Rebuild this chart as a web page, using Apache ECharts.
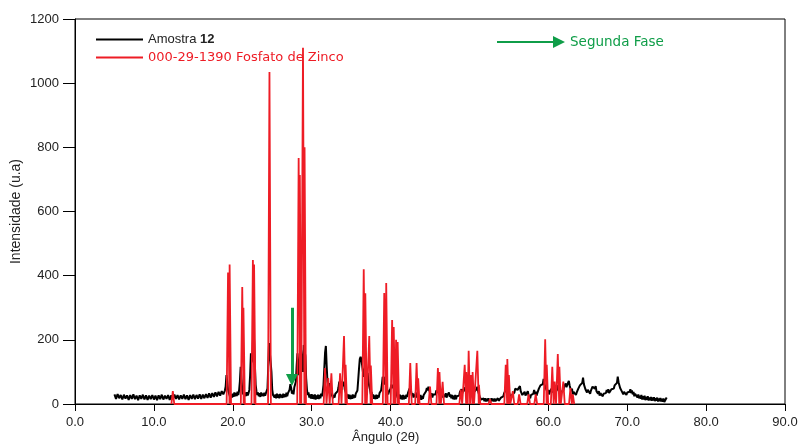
<!DOCTYPE html>
<html>
<head>
<meta charset="utf-8">
<script src="https://cdn.jsdelivr.net/npm/echarts@6/dist/echarts.min.js"></script>
<style>html,body{margin:0;padding:0;background:#fff;}#c{width:800px;height:448px;}</style>
</head>
<body>
<div id="c"></div>
<script>
// Amostra 12 measured pattern: [angle 2θ, intensity]
const amostraData = [
[5.0,30],[5.2,16],[5.4,31],[5.6,18],[5.8,28],[6.0,14],[6.2,29],[6.4,17],[6.6,27],[6.8,13],
[7.0,28],[7.2,16],[7.4,30],[7.6,15],[7.8,26],[8.0,12],[8.2,27],[8.4,16],[8.6,29],[8.8,14],
[9.0,27],[9.2,13],[9.4,26],[9.6,15],[9.8,28],[10.0,14],[10.2,26],[10.4,12],[10.6,27],[10.8,15],
[11.0,29],[11.2,14],[11.4,26],[11.6,16],[11.8,28],[12.0,13],[12.2,27],[12.4,15],[12.6,29],[12.8,16],
[13.0,28],[13.2,14],[13.4,27],[13.6,16],[13.8,29],[14.0,15],[14.2,27],[14.4,13],[14.6,28],[14.8,16],
[15.0,29],[15.2,15],[15.4,28],[15.6,17],[15.8,30],[16.0,16],[16.2,29],[16.4,18],[16.6,31],[16.8,19],
[17.0,33],[17.2,20],[17.4,34],[17.6,22],[17.8,36],[18.0,24],[18.2,38],[18.4,26],[18.6,40],[18.8,30],
[19.0,42],[19.1,55],[19.2,90],[19.3,70],[19.4,45],[19.5,35],[19.6,30],[19.7,18],[19.8,30],[19.9,20],
[20.0,32],[20.1,22],[20.2,36],[20.3,24],[20.4,34],[20.5,25],[20.6,38],[20.7,28],[20.8,42],[20.9,70],
[21.0,116],[21.1,80],[21.2,45],[21.3,30],[21.4,38],[21.5,24],[21.6,36],[21.7,25],[21.8,37],[21.9,27],
[22.0,34],[22.1,44],[22.2,90],[22.3,158],[22.4,130],[22.5,150],[22.6,233],[22.7,200],[22.8,120],[22.9,60],
[23.0,40],[23.1,28],[23.2,36],[23.3,24],[23.4,34],[23.5,22],[23.6,36],[23.7,25],[23.8,33],[23.9,24],
[24.0,35],[24.1,26],[24.2,34],[24.3,32],[24.4,48],[24.5,120],[24.6,190],[24.7,190],[24.8,190],[24.9,100],
[25.0,45],[25.1,28],[25.2,34],[25.3,20],[25.4,30],[25.5,18],[25.6,32],[25.7,19],[25.8,30],[25.9,18],
[26.0,31],[26.1,20],[26.2,29],[26.3,19],[26.4,32],[26.5,21],[26.6,30],[26.7,22],[26.8,35],[26.9,24],
[27.0,34],[27.1,28],[27.2,45],[27.3,62],[27.4,50],[27.5,32],[27.6,42],[27.7,30],[27.8,52],[27.9,46],
[28.0,70],[28.1,120],[28.2,158],[28.3,110],[28.4,90],[28.5,140],[28.6,184],[28.7,184],[28.8,130],[28.9,100],
[29.0,184],[29.1,184],[29.2,150],[29.3,80],[29.4,45],[29.5,28],[29.6,36],[29.7,20],[29.8,30],[29.9,17],
[30.0,31],[30.1,16],[30.2,28],[30.3,15],[30.4,30],[30.5,14],[30.6,27],[30.7,16],[30.8,29],[30.9,15],
[31.0,28],[31.1,18],[31.2,32],[31.3,24],[31.4,38],[31.5,60],[31.6,110],[31.7,160],[31.8,181],[31.9,120],
[32.0,70],[32.1,52],[32.2,65],[32.3,48],[32.4,36],[32.5,24],[32.6,32],[32.7,18],[32.8,28],[32.9,20],
[33.0,32],[33.1,26],[33.2,38],[33.3,40],[33.4,52],[33.5,70],[33.6,58],[33.7,70],[33.8,45],[33.9,68],
[34.0,55],[34.1,70],[34.2,45],[34.3,40],[34.4,30],[34.5,20],[34.6,30],[34.7,16],[34.8,29],[34.9,15],
[35.0,27],[35.1,16],[35.2,30],[35.3,18],[35.4,28],[35.5,20],[35.6,33],[35.7,28],[35.8,42],[35.9,75],
[36.0,110],[36.1,140],[36.2,147],[36.3,140],[36.4,120],[36.5,100],[36.6,85],[36.7,110],[36.8,75],[36.9,60],
[37.0,70],[37.1,97],[37.2,70],[37.3,55],[37.4,45],[37.5,30],[37.6,38],[37.7,22],[37.8,30],[37.9,16],
[38.0,27],[38.1,15],[38.2,29],[38.3,16],[38.4,27],[38.5,20],[38.6,34],[38.7,30],[38.8,42],[38.9,60],
[39.0,85],[39.1,70],[39.2,85],[39.3,60],[39.4,80],[39.5,55],[39.6,40],[39.7,30],[39.8,38],[39.9,34],
[40.0,48],[40.1,60],[40.2,65],[40.3,50],[40.4,60],[40.5,40],[40.6,55],[40.7,35],[40.8,32],[40.9,20],
[41.0,30],[41.1,16],[41.2,29],[41.3,15],[41.4,27],[41.5,14],[41.6,28],[41.7,15],[41.8,26],[41.9,16],
[42.0,29],[42.1,22],[42.2,34],[42.3,38],[42.4,48],[42.5,54],[42.6,40],[42.7,26],[42.8,34],[42.9,20],
[43.0,30],[43.1,22],[43.2,36],[43.3,20],[43.4,29],[43.5,15],[43.6,26],[43.7,14],[43.8,28],[43.9,13],
[44.0,25],[44.1,16],[44.2,28],[44.3,24],[44.4,34],[44.5,40],[44.6,50],[44.7,42],[44.8,54],[44.9,44],
[45.0,40],[45.1,26],[45.2,34],[45.3,20],[45.4,30],[45.5,24],[45.6,36],[45.7,30],[45.8,42],[45.9,36],
[46.0,46],[46.1,34],[46.2,42],[46.3,36],[46.4,46],[46.5,28],[46.6,34],[46.7,20],[46.8,30],[46.9,22],
[47.0,34],[47.1,20],[47.2,28],[47.3,26],[47.4,36],[47.5,22],[47.6,30],[47.7,18],[47.8,28],[47.9,15],
[48.0,26],[48.1,14],[48.2,28],[48.3,15],[48.4,24],[48.5,18],[48.6,30],[48.7,26],[48.8,38],[48.9,34],
[49.0,46],[49.1,34],[49.2,42],[49.3,40],[49.4,52],[49.5,38],[49.6,46],[49.7,40],[49.8,56],[49.9,44],
[50.0,48],[50.1,34],[50.2,42],[50.3,36],[50.4,48],[50.5,30],[50.6,38],[50.7,34],[50.8,44],[50.9,46],
[51.0,54],[51.1,40],[51.2,36],[51.3,22],[51.4,26],[51.5,14],[51.6,20],[51.7,10],[51.8,17],[51.9,9],
[52.0,18],[52.1,8],[52.2,16],[52.3,9],[52.4,18],[52.5,8],[52.6,15],[52.7,8],[52.8,18],[52.9,9],
[53.0,16],[53.1,8],[53.2,17],[53.3,9],[53.4,15],[53.5,8],[53.6,18],[53.7,10],[53.8,16],[53.9,12],
[54.0,20],[54.1,16],[54.2,26],[54.3,24],[54.4,34],[54.5,36],[54.6,44],[54.7,48],[54.8,56],[54.9,44],
[55.0,46],[55.1,30],[55.2,34],[55.3,20],[55.4,28],[55.5,24],[55.6,34],[55.7,36],[55.8,48],[55.9,44],
[56.0,54],[56.1,44],[56.2,50],[56.3,46],[56.4,56],[56.5,40],[56.6,42],[56.7,28],[56.8,34],[56.9,26],
[57.0,38],[57.1,26],[57.2,32],[57.3,30],[57.4,40],[57.5,26],[57.6,32],[57.7,18],[57.8,28],[57.9,22],
[58.0,34],[58.1,32],[58.2,44],[58.3,30],[58.4,38],[58.5,26],[58.6,34],[58.7,38],[58.8,48],[58.9,46],
[59.0,58],[59.1,52],[59.2,64],[59.3,62],[59.4,78],[59.5,62],[59.6,62],[59.7,48],[59.8,52],[59.9,36],
[60.0,44],[60.1,30],[60.2,38],[60.3,36],[60.4,48],[60.5,36],[60.6,44],[60.7,40],[60.8,52],[60.9,34],
[61.0,42],[61.1,44],[61.2,58],[61.3,40],[61.4,48],[61.5,30],[61.6,38],[61.7,32],[61.8,44],[61.9,42],
[62.0,54],[62.1,50],[62.2,64],[62.3,52],[62.4,60],[62.5,58],[62.6,72],[62.7,58],[62.8,58],[62.9,40],
[63.0,48],[63.1,30],[63.2,38],[63.3,32],[63.4,44],[63.5,28],[63.6,36],[63.7,38],[63.8,48],[63.9,46],
[64.0,58],[64.1,52],[64.2,64],[64.3,66],[64.4,82],[64.5,62],[64.6,66],[64.7,46],[64.8,52],[64.9,36],
[65.0,44],[65.1,38],[65.2,48],[65.3,32],[65.4,42],[65.5,44],[65.6,54],[65.7,50],[65.8,60],[65.9,48],
[66.0,56],[66.1,40],[66.2,46],[66.3,32],[66.4,40],[66.5,26],[66.6,34],[66.7,28],[66.8,38],[66.9,24],
[67.0,32],[67.1,28],[67.2,38],[67.3,34],[67.4,44],[67.5,36],[67.6,46],[67.7,34],[67.8,40],[67.9,38],
[68.0,46],[68.1,40],[68.2,50],[68.3,48],[68.4,58],[68.5,52],[68.6,62],[68.7,66],[68.8,85],[68.9,68],
[69.0,70],[69.1,50],[69.2,56],[69.3,40],[69.4,46],[69.5,30],[69.6,38],[69.7,34],[69.8,42],[69.9,28],
[70.0,36],[70.1,32],[70.2,42],[70.3,38],[70.4,46],[70.5,34],[70.6,42],[70.7,30],[70.8,38],[70.9,24],
[71.0,32],[71.1,26],[71.2,36],[71.3,20],[71.4,30],[71.5,18],[71.6,26],[71.7,16],[71.8,28],[71.9,14],
[72.0,24],[72.1,14],[72.2,26],[72.3,12],[72.4,22],[72.5,13],[72.6,24],[72.7,11],[72.8,20],[72.9,12],
[73.0,22],[73.1,10],[73.2,20],[73.3,11],[73.4,21],[73.5,9],[73.6,18],[73.7,10],[73.8,20],[73.9,8],
[74.0,17],[74.1,9],[74.2,19],[74.3,8],[74.4,16],[74.5,7],[74.6,17],[74.7,6],[74.8,12],[75.0,20]
];

// Reference pattern 000-29-1390 (Fosfato de Zinco): peak positions and heights
const fosfatoAngles  = [12.4,19.4,19.6,21.2,21.35,22.55,22.7,24.65,28.35,28.5,28.9,29.1,31.7,32.1,32.5,33.6,34.1,34.3,36.6,36.8,37.3,37.5,39.2,39.45,40.2,40.4,40.7,40.9,42.5,43.3,43.5,45.0,46.0,46.2,46.6,48.9,49.4,49.6,49.9,50.2,50.4,51.0,51.2,52.6,54.6,54.8,55.0,55.5,56.3,57.5,58.4,59.6,59.8,60.5,60.8,61.2,61.4,61.9,62.8,63.1];
const fosfatoHeights = [40,410,435,365,300,449,435,1035,767,714,1110,800,112,81,96,96,212,122,420,345,212,120,346,377,262,240,200,193,128,128,80,54,112,100,69,45,122,100,166,90,100,166,60,15,122,140,90,40,30,30,30,202,122,116,70,156,116,70,50,30];

// Second phase marker (arrow) from / to [angle, intensity]
const faseArrowFrom = [27.5, 300];
const faseArrowTo = [27.5, 75];

const xTicks = {min: 0, max: 90, interval: 10};
const yTicks = {min: 0, max: 1200, interval: 200};

const halfBase = 0.18;
const fosfatoData = [];
fosfatoAngles.forEach((a, i) => {
  fosfatoData.push([a - halfBase, 0]);
  fosfatoData.push([a, fosfatoHeights[i]]);
  fosfatoData.push([a + halfBase, 0]);
});

const chart = echarts.init(document.getElementById('c'), null, {renderer: 'canvas'});
const font = 'Liberation Sans';
const green = '#0f9d48';
const red = '#ee1c25';

chart.setOption({
  animation: false,
  backgroundColor: '#fff',
  grid: {left: 75, right: 15, top: 19, bottom: 44, show: true, borderColor: '#000', borderWidth: 1, outerBoundsMode: 'none', containLabel: false},
  xAxis: {
    type: 'value', min: xTicks.min, max: xTicks.max, interval: xTicks.interval,
    axisLine: {show: true, lineStyle: {color: '#000', width: 1}},
    axisTick: {show: true, length: 7, lineStyle: {color: '#000'}},
    axisLabel: {color: '#222', fontFamily: font, fontSize: 13, margin: 12, formatter: v => v.toFixed(1)},
    splitLine: {show: false}
  },
  yAxis: {
    type: 'value', min: yTicks.min, max: yTicks.max, interval: yTicks.interval,
    name: 'Intensidade (u.a)', nameLocation: 'middle', nameGap: 52, nameMoveOverlap: false,
    nameTextStyle: {color: '#222', fontFamily: font, fontSize: 14},
    axisLine: {show: true, lineStyle: {color: '#000', width: 1}},
    axisTick: {show: true, length: 12, lineStyle: {color: '#000'}},
    axisLabel: {color: '#222', fontFamily: font, fontSize: 13, margin: 16, formatter: v => String(v)},
    splitLine: {show: false}
  },
  legend: [
    {
      orient: 'vertical', left: 96, top: 33, padding: 0, itemWidth: 47, itemHeight: 14, itemGap: 5,
      icon: 'path://M0,0 L100,0 L100,4 L0,4 Z',
      data: [
        {name: 'Amostra 12', textStyle: {color: '#222'}},
        {name: '000-29-1390 Fosfato de Zinco', textStyle: {color: red, fontFamily: 'DejaVu Sans', fontSize: 13}}
      ],
      formatter: n => n === 'Amostra 12' ? '{a|Amostra }{b|12}' : n,
      textStyle: {
        fontFamily: font, fontSize: 13,
        rich: {a: {fontFamily: font, fontSize: 13, color: '#222'}, b: {fontFamily: font, fontSize: 13, fontWeight: 'bold', color: '#222'}}
      }
    },
    {
      left: 497, top: 35, padding: 0, itemWidth: 68, itemHeight: 12,
      icon: 'path://M0,5 L56,5 L56,0 L68,6 L56,12 L56,7 L0,7 Z',
      data: [{name: 'Segunda Fase', itemStyle: {color: green}}],
      textStyle: {color: green, fontFamily: 'DejaVu Sans', fontSize: 13.5}
    }
  ],
  series: [
    {
      name: 'Amostra 12', type: 'line', data: amostraData, showSymbol: false, symbol: 'none',
      lineStyle: {color: '#000', width: 2}, itemStyle: {color: '#000'}, z: 2
    },
    {
      name: '000-29-1390 Fosfato de Zinco', type: 'line', data: fosfatoData, showSymbol: false, symbol: 'none',
      lineStyle: {color: red, width: 1.8}, itemStyle: {color: red}, z: 3
    },
    {
      name: 'Segunda Fase', type: 'line', data: [], itemStyle: {color: green}, z: 4,
      markLine: {
        silent: true, symbol: ['none', 'triangle'], symbolSize: [12, 12], symbolRotate: 180,
        label: {show: false},
        lineStyle: {color: green, width: 3, type: 'solid'},
        data: [[{coord: faseArrowFrom}, {coord: faseArrowTo}]]
      }
    }
  ],
  graphic: [
    {type: 'text', left: 352, top: 431, style: {text: 'Ângulo (2θ)', fill: '#222', font: '13px "Liberation Sans"'}}
  ]
});
</script>
</body>
</html>
